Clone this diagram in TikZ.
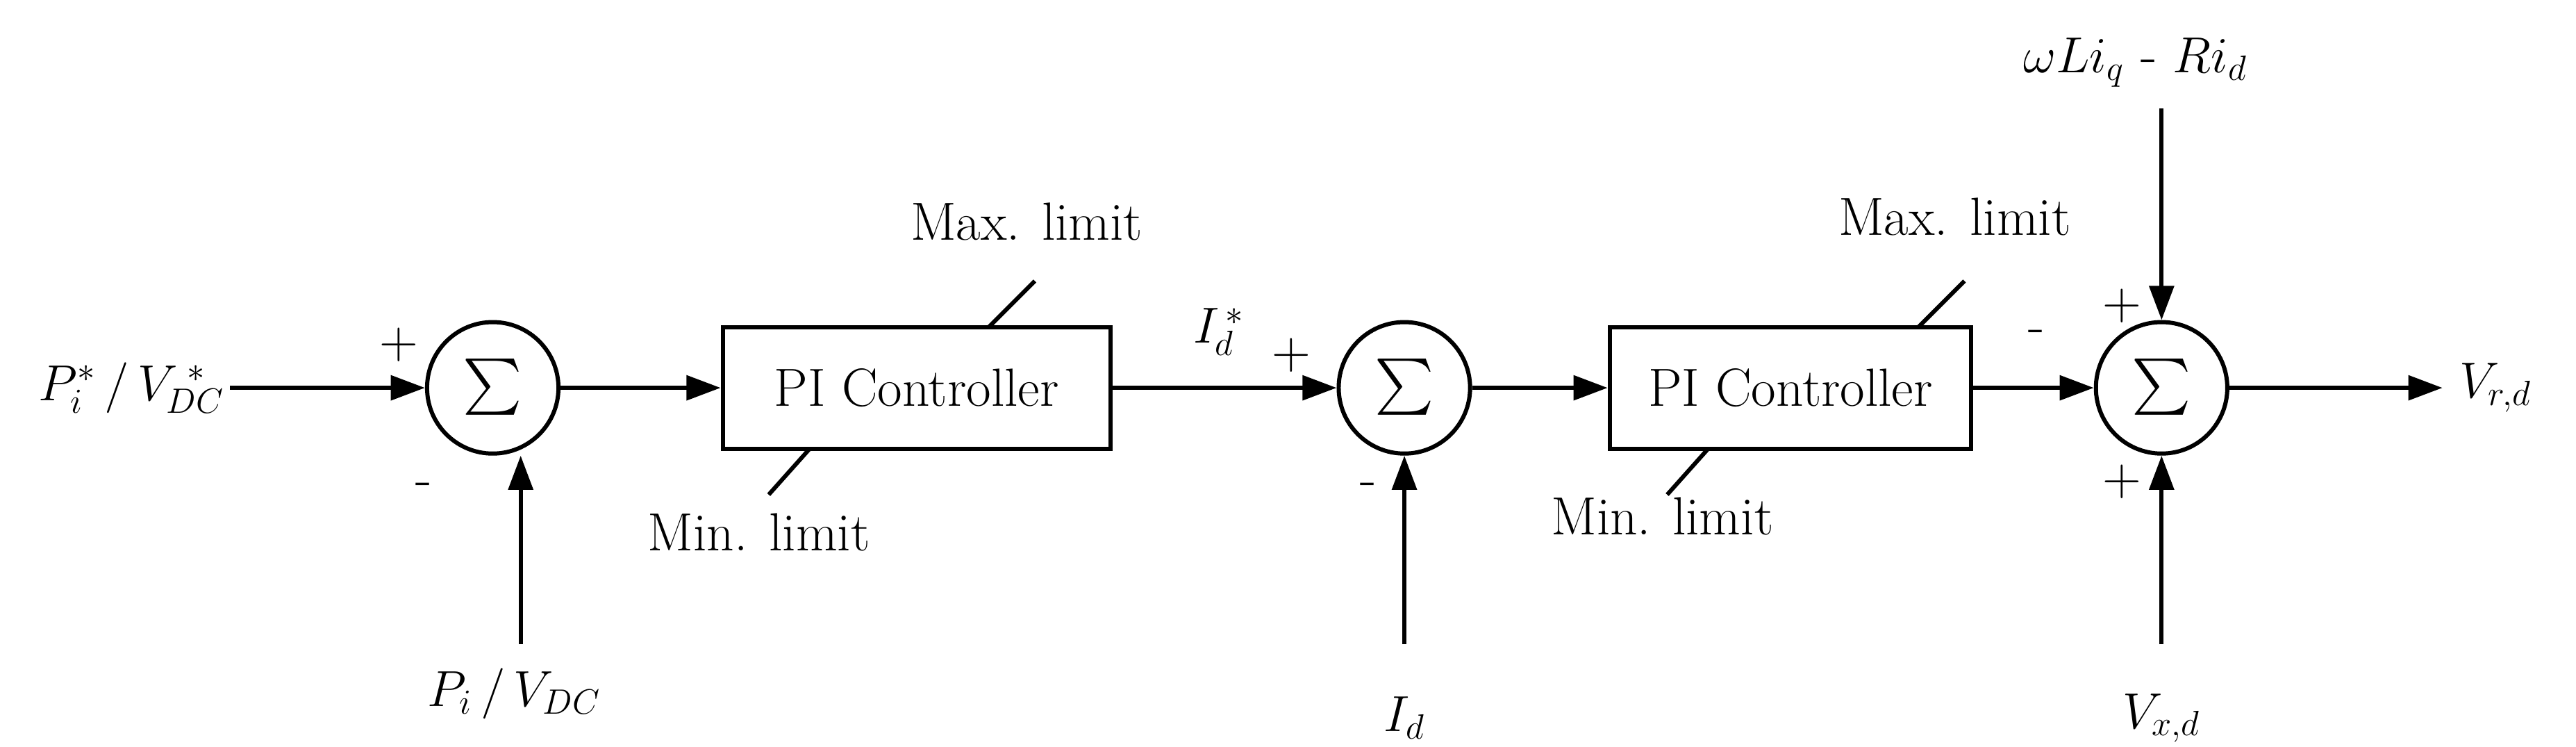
\documentclass[tikz,border=0pt]{standalone}
\usetikzlibrary{arrows.meta}
\begin{document}
\begin{tikzpicture}[x=0.02365cm,y=-0.02365cm,
  every node/.style={font=\fontsize{22}{26}\selectfont},
  sum/.style={circle,draw,line width=1.7pt,minimum size=80*0.02365cm,inner sep=0pt},
  blk/.style={draw,line width=1.7pt,minimum width=236*0.02365cm,minimum height=74*0.02365cm},
  ln/.style={line width=1.7pt},
  ar/.style={line width=1.7pt,-{Triangle[length=14pt,width=10pt]}}]
\useasboundingbox (0,0) rectangle (1568.3,454.5);
\newcommand{\sig}{\scalebox{2.3}{$\sum$}}
\node[sum] (s1) at (300,236) {\sig};
\node[sum] (s2) at (855,236) {\sig};
\node[sum] (s3) at (1316,236) {\sig};
\node[blk] (b1) at (558,236) {PI Controller};
\node[blk,minimum width=220*0.02365cm] (b2) at (1090,236) {PI Controller};
\node (in) at (80,236) {$P_i^{*}\,/\,V_{DC}^{\;*}$};
\coordinate (inR) at (140,236);
\node (fb1) at (313,422) {$P_i\,/\,V_{DC}$};
\coordinate (fb1t) at (317,392);
\node (fb2) at (855,437) {$I_d$};
\coordinate (fb2t) at (855,392);
\node (top3) at (1300,38) {$\omega Li_q$ - $Ri_d$};
\coordinate (top3b) at (1316,66);
\node (vx) at (1316,437) {$V_{x,d}$};
\coordinate (vxt) at (1316,392);
\coordinate (out) at (1487,236);
\node[anchor=west] (vr) at (1492,236) {$V_{r,d}$};
\draw[ar] (inR) -- (s1);
\draw[ar] (fb1t) -- (s1.south -| fb1t);
\draw[ar] (s1) -- (b1);
\draw[ar] (b1) -- (s2);
\draw[ar] (fb2t) -- (s2);
\draw[ar] (s2) -- (b2);
\draw[ar] (b2) -- (s3);
\draw[ar] (top3b) -- (s3);
\draw[ar] (vxt) -- (s3);
\draw[ar] (s3) -- (out);
\node at (243,210) {+};
\node at (258,298) {-};
\node at (742,202) {$I_d^{\,*}$};
\node at (786,216) {+};
\node at (833,298) {-};
\node at (1240,205) {-};
\node at (1292,186) {+};
\node at (1292,293) {+};
\coordinate (m1a) at (602,199); \coordinate (m1b) at (630,171);
\draw[ln] (m1a) -- (m1b);
\node at (625,135) {Max. limit};
\coordinate (n1a) at (493,273); \coordinate (n1b) at (468,301);
\draw[ln] (n1a) -- (n1b);
\node at (462,324) {Min. limit};
\coordinate (m2a) at (1168,199); \coordinate (m2b) at (1196,171);
\draw[ln] (m2a) -- (m2b);
\node at (1190,132) {Max. limit};
\coordinate (n2a) at (1040,273); \coordinate (n2b) at (1015,301);
\draw[ln] (n2a) -- (n2b);
\node at (1012,314) {Min. limit};
\end{tikzpicture}
\end{document}
